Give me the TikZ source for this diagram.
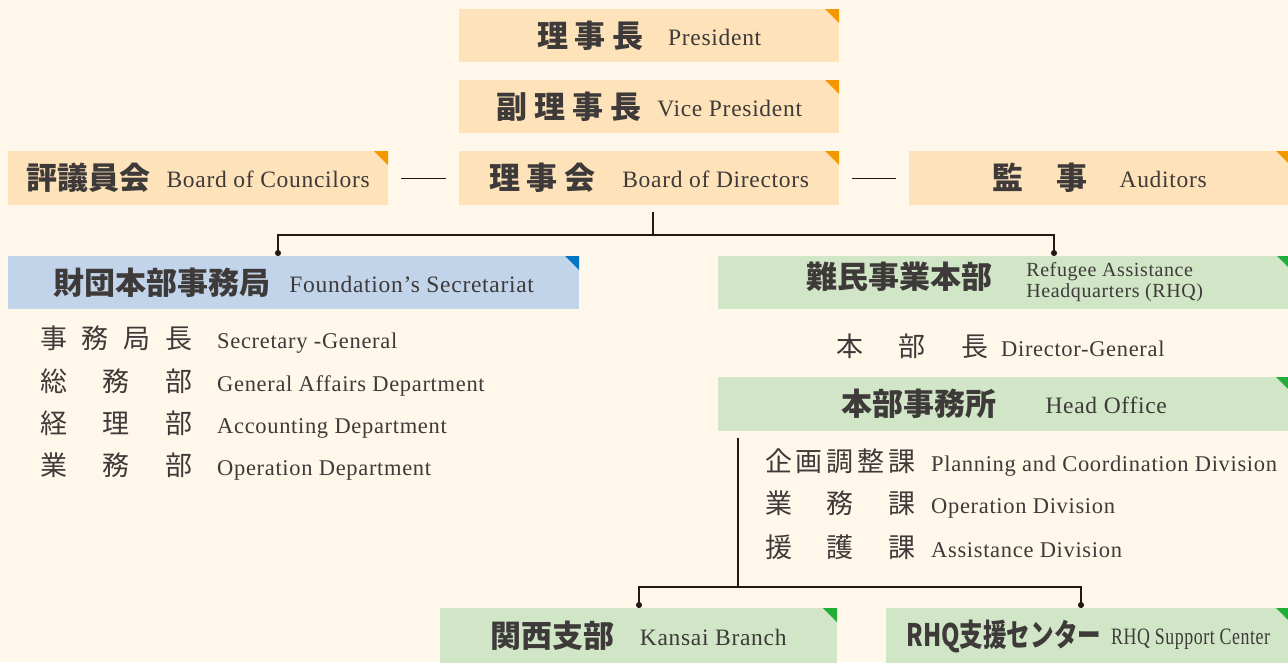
\documentclass[tikz,border=0pt]{standalone}
\usepackage{fontspec}
\setmainfont{Liberation Serif}[LetterSpace=3]
\newfontfamily\jpfont{Noto Sans CJK JP}
\usetikzlibrary{arrows.meta,positioning,calc}
\definecolor{bgcream}{HTML}{FEF7EA}
\definecolor{peachbg}{HTML}{FDE2BA}
\definecolor{orangetip}{HTML}{F39800}
\definecolor{bluebg}{HTML}{C2D4EA}
\definecolor{bluetip}{HTML}{0075C1}
\definecolor{greenbg}{HTML}{D1E6C7}
\definecolor{greentip}{HTML}{22AC38}
\definecolor{ink}{HTML}{3E3A39}
\definecolor{wire}{HTML}{231815}
\newcommand{\jh}[1]{{\jpfont\bfseries\fontsize{31}{31}\selectfont #1}}
\newcommand{\jl}[2]{{\jpfont\fontsize{27}{27}\selectfont\makebox[#1][s]{#2}}}
\newcommand{\jf}{\hfill{}}
\newcommand{\en}[1]{\raisebox{2pt}{#1}}

\begin{document}
\begin{tikzpicture}[x=1pt,y=-1pt,
  every node/.style={text=ink,inner sep=0pt,font=\fontsize{23.5}{25}\selectfont},
  card/.style 2 args={fill=#1,minimum height=53pt,anchor=north west,
    path picture={\fill[#2] (path picture bounding box.north east) -- ++(-14pt,0pt) -- ++(14pt,-14pt) -- cycle;}},
  peach/.style={card={peachbg}{orangetip}},
  blue/.style={card={bluebg}{bluetip}},
  green/.style={card={greenbg}{greentip}},
  listrow/.style={anchor=west,font=\fontsize{22.5}{24}\selectfont},
  wire/.style={draw=wire,line width=1.2pt},
  dotend/.style={wire,-{Circle[length=6pt]}}]
\fill[bgcream] (0,0) rectangle (1288,662);
\useasboundingbox (0,0) rectangle (1288,662);

\node[peach,minimum width=380pt] (pres) at (459,9)
  {\jh{\makebox[106pt][s]{理\jf 事\jf 長}}\hspace{25pt}\en{President}};
\node[peach,minimum width=380pt] (vp) at (459,80)
  {\jh{\makebox[145pt][s]{副\jf 理\jf 事\jf 長}}\hspace{16pt}\en{Vice President}};
\node[peach,minimum width=380pt,minimum height=54pt] (bod) at (459,151)
  {\jh{\makebox[106pt][s]{理\jf 事\jf 会}}\hspace{27pt}\en{Board of Directors}};
\node[peach,minimum width=380pt,minimum height=54pt] (coun) at (8,151)
  {\jh{評議員会}\hspace{16pt}\en{Board of Councilors}};
\node[peach,minimum width=381pt,minimum height=54pt] (aud) at (909,151)
  {\jh{\makebox[95pt][s]{監\jf 事}}\hspace{32pt}\en{Auditors}};

\draw[wire,shorten <=13pt,shorten >=13pt] (coun) -- (bod);
\draw[wire,shorten <=13pt,shorten >=13pt] (bod) -- (aud);

\node[blue,minimum width=571pt] (sec) at (8,256)
  {\jh{財団本部事務局}\hspace{19pt}\en{Foundation's Secretariat}};
\node[green,minimum width=573pt] (rhq) at (718,256)
  {\jh{難民事業本部}\hspace{34pt}{\fontsize{20}{21}\selectfont\begin{tabular}{@{}l@{}}Refugee Assistance\\Headquarters (RHQ)\end{tabular}}};

\coordinate (split) at (653,235);
\draw[wire] ([yshift=-7pt]bod.south -| split) -- (split);
\draw[dotend] (split) -| ([xshift=270pt]sec.north west);
\draw[dotend] (split) -| ([xshift=336pt]rhq.north west);

\node[listrow] (sg) at (40,340) {\jl{152pt}{事\jf 務\jf 局\jf 長}\hspace{25pt}Secretary -General};
\node[listrow] (ga) at (40,383) {\jl{152pt}{総\jf 務\jf 部}\hspace{25pt}General Affairs Department};
\node[listrow] (ac) at (40,425) {\jl{152pt}{経\jf 理\jf 部}\hspace{25pt}Accounting Department};
\node[listrow] (op) at (40,467) {\jl{152pt}{業\jf 務\jf 部}\hspace{25pt}Operation Department};

\node[listrow] (dg) at (836,346) {\jl{152pt}{本\jf 部\jf 長}\hspace{13pt}Director-General};
\node[green,minimum width=572pt,minimum height=54pt] (ho) at (718,377)
  {\jh{本部事務所}\hspace{49pt}\en{Head Office}};
\node[listrow] (pc) at (765,463) {\jl{150pt}{企\jf 画\jf 調\jf 整\jf 課}\hspace{16pt}Planning and Coordination Division};
\node[listrow] (od) at (765,505) {\jl{150pt}{業\jf 務\jf 課}\hspace{16pt}Operation Division};
\node[listrow] (ad) at (765,547) {\jl{150pt}{援\jf 護\jf 課}\hspace{16pt}Assistance Division};

\node[green,minimum width=397pt,minimum height=56pt] (kan) at (440,608)
  {\jh{関西支部}\hspace{25pt}\en{Kansai Branch}};
\node[green,minimum width=404pt,minimum height=56pt] (sup) at (886,608)
  {\scalebox{0.76}[1]{\jh{RHQ支援センター}}\hspace{10pt}\en{\scalebox{0.76}[1]{RHQ Support Center}}};

\coordinate (join) at (738,587);
\draw[wire] ([xshift=20pt,yshift=-7pt]ho.south west) -- (join);
\draw[dotend] (join) -| ([xshift=199pt]kan.north west);
\draw[dotend] (join) -| ([xshift=195pt]sup.north west);
\end{tikzpicture}
\end{document}
